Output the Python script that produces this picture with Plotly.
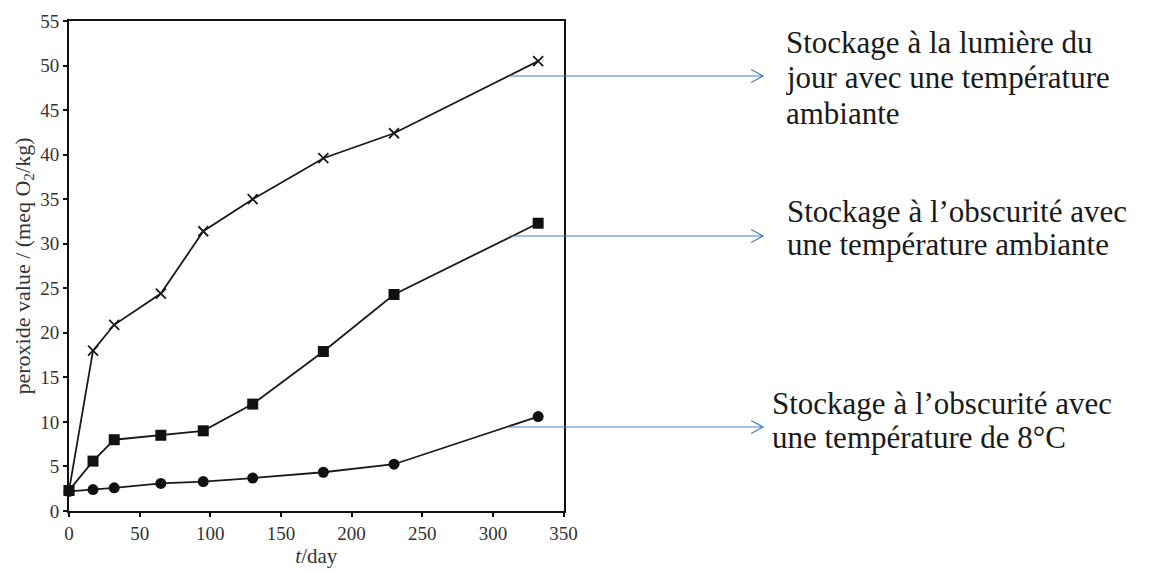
import plotly.graph_objects as go

# ---- data ----
days = [0, 17, 32, 65, 95, 130, 180, 230, 332]
light_ambient = [2.3, 18.0, 20.9, 24.4, 31.4, 35.0, 39.6, 42.4, 50.5]
dark_ambient = [2.3, 5.6, 8.0, 8.5, 9.0, 12.0, 17.9, 24.3, 32.3]
dark_8c = [2.2, 2.4, 2.6, 3.1, 3.3, 3.7, 4.35, 5.25, 10.6]

x_ticks = [0, 50, 100, 150, 200, 250, 300, 350]
y_ticks = [0, 5, 10, 15, 20, 25, 30, 35, 40, 45, 50, 55]

labels = [
    ["Stockage à la lumière du", "jour avec une température", "ambiante"],
    ["Stockage à l’obscurité avec", "une température ambiante"],
    ["Stockage à l’obscurité avec", "une température de 8°C"],
]

# ---- layout geometry (pixels) ----
W, H = 1163, 572
ML, MR, MT, MB = 69, 0, 21, 61
PLOT_RIGHT = 570

def px(x):
    return (x - ML) / (W - ML - MR)

def py(y):
    return (H - MB - y) / (H - MT - MB)

arrow_y = [76, 236, 427]
arrow_x0, arrow_x1 = 515, 772
label_left = [793, 794, 779]
label_centers = [[43, 78, 113], [211, 244], [403, 437]]

fig = go.Figure()
line_style = dict(color="#1a1a1a", width=1.8)
fig.add_trace(go.Scatter(x=days, y=light_ambient, mode="lines+markers", line=line_style,
                         marker=dict(symbol="x-thin", size=10, line=dict(width=1.8, color="#1a1a1a")),
                         cliponaxis=False, showlegend=False))
fig.add_trace(go.Scatter(x=days, y=dark_ambient, mode="lines+markers", line=line_style,
                         marker=dict(symbol="square", size=11, color="#111"),
                         cliponaxis=False, showlegend=False))
fig.add_trace(go.Scatter(x=days, y=dark_8c, mode="lines+markers", line=line_style,
                         marker=dict(symbol="circle", size=11, color="#111"),
                         cliponaxis=False, showlegend=False))

shapes = []
arrow_col = "#4a7ebb"
for ay in arrow_y:
    shapes.append(dict(type="line", xref="paper", yref="paper",
                       x0=px(arrow_x0), x1=px(arrow_x1), y0=py(ay), y1=py(ay),
                       line=dict(color=arrow_col, width=1.2)))
    path = "M {} {} L {} {} L {} {}".format(px(arrow_x1 - 12), py(ay - 6.5), px(arrow_x1), py(ay),
                                             px(arrow_x1 - 12), py(ay + 6.5))
    shapes.append(dict(type="path", xref="paper", yref="paper", path=path,
                       line=dict(color=arrow_col, width=1.2)))

annotations = []
for block, left, centers in zip(labels, label_left, label_centers):
    for text, cy in zip(block, centers):
        annotations.append(dict(text=text, xref="paper", yref="paper", x=px(left), y=py(cy),
                                xanchor="left", yanchor="middle", showarrow=False,
                                font=dict(family="Liberation Serif", size=31, color="#1a1a1a")))

axis_common = dict(showline=True, linecolor="#111", linewidth=2, mirror=True,
                   ticks="outside", ticklen=4, tickwidth=1.5, tickcolor="#111",
                   showgrid=False, zeroline=False,
                   tickfont=dict(family="Liberation Serif", size=19, color="#333"))

fig.update_layout(
    width=W, height=H,
    margin=dict(l=ML, r=MR, t=MT, b=MB),
    plot_bgcolor="white", paper_bgcolor="white",
    xaxis=dict(range=[0, 350], tickvals=x_ticks, domain=[0, px(PLOT_RIGHT)],
               title=dict(text="<i>t</i>/day", standoff=4,
                          font=dict(family="Liberation Serif", size=21, color="#333")),
               **axis_common),
    yaxis=dict(range=[0, 55], tickvals=y_ticks,
               title=dict(text="peroxide value / (meq O<sub>2</sub>/kg)", standoff=4,
                          font=dict(family="Liberation Serif", size=22, color="#333")),
               **axis_common),
    shapes=shapes,
    annotations=annotations,
)

fig.write_html("out.html", config={"displayModeBar": False},
               post_script="document.body.style.margin='0';")
